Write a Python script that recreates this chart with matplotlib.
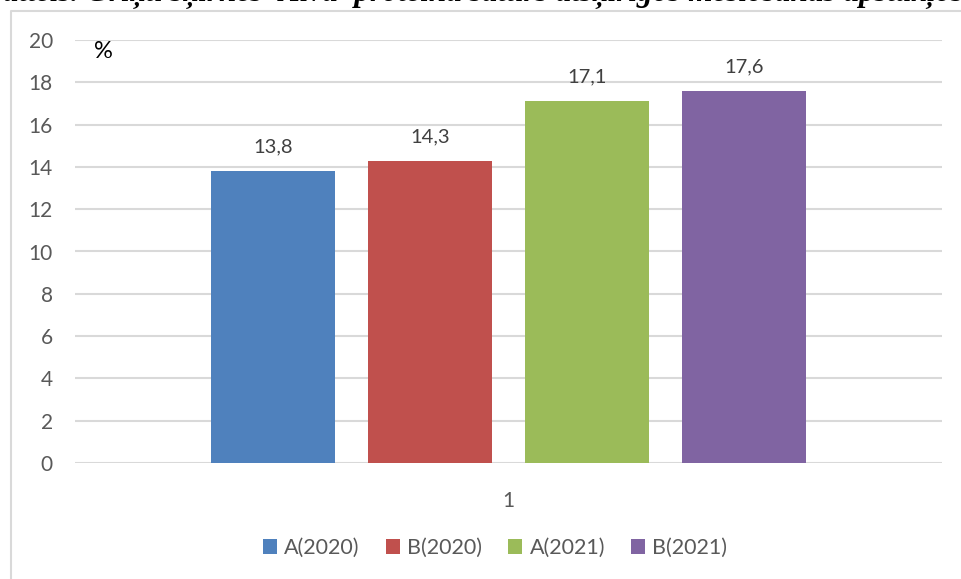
import numpy as np
import matplotlib.pyplot as plt
from matplotlib.lines import Line2D

# data
series = ['A(2020)', 'B(2020)', 'A(2021)', 'B(2021)']
values = [13.8, 14.3, 17.1, 17.6]
colors = ['#4F81BD', '#C0504D', '#9BBB59', '#8064A2']
category = [1]
yticks = list(range(0, 21, 2))

W, H = 962, 579
plt.rcParams['font.family'] = ['Lato', 'DejaVu Sans']
fig = plt.figure(figsize=(W / 100, H / 100), dpi=100)
ax = fig.add_axes([75 / W, (H - 463) / H, (942 - 75) / W, (463 - 40) / H])

width = 0.143
step = 0.181
offsets = (np.arange(len(series)) - 1.5) * step
for s, v, c, off in zip(series, values, colors, offsets):
    ax.bar(category[0] + off, v, width=width, color=c, label=s, zorder=3)
    ax.annotate(str(v).replace('.', ','), (category[0] + off, v),
                xytext=(0, 24), textcoords='offset pixels',
                ha='center', va='center', fontsize=14.5, color='#404040')

ax.set_xlim(0.5, 1.5)
ax.set_ylim(0, 20)
ax.set_yticks(yticks)
ax.set_xticks(category)
ax.set_xticklabels([str(c) for c in category])
ax.tick_params(axis='y', length=0, pad=16, labelsize=15, labelcolor='#595959')
ax.tick_params(axis='x', length=0, pad=20, labelsize=15, labelcolor='#595959')
ax.grid(axis='y', color='#d9d9d9', linewidth=1.5, zorder=0)
for sp in ax.spines.values():
    sp.set_visible(False)

fig.text(103 / W, 1 - 51 / H, '%', ha='center', va='center', fontsize=17, color='black')

fig.legend(loc='center', bbox_to_anchor=(495 / W, 1 - 548 / H), ncol=4, frameon=False,
           fontsize=15.5, handlelength=0.65, handleheight=0.65, handletextpad=0.35,
           columnspacing=1.2, labelcolor='#595959')

# frame of the chart area
fig.add_artist(Line2D([11 / W, 11 / W, 1], [0, 1 - 11 / H, 1 - 11 / H],
                      transform=fig.transFigure, color='#d9d9d9', linewidth=1.5))

# cropped caption at the top
fig.text(3 / W, 1 - 1 / H, "attēls. Griķu šķirnes 'Alva' proteīna saturs atšķirīgos mēslošanas apstākļos",
         ha='left', va='baseline', fontsize=22.5, family='Liberation Serif',
         weight='bold', style='italic', color='black')

fig.savefig('out.png', dpi=100)
